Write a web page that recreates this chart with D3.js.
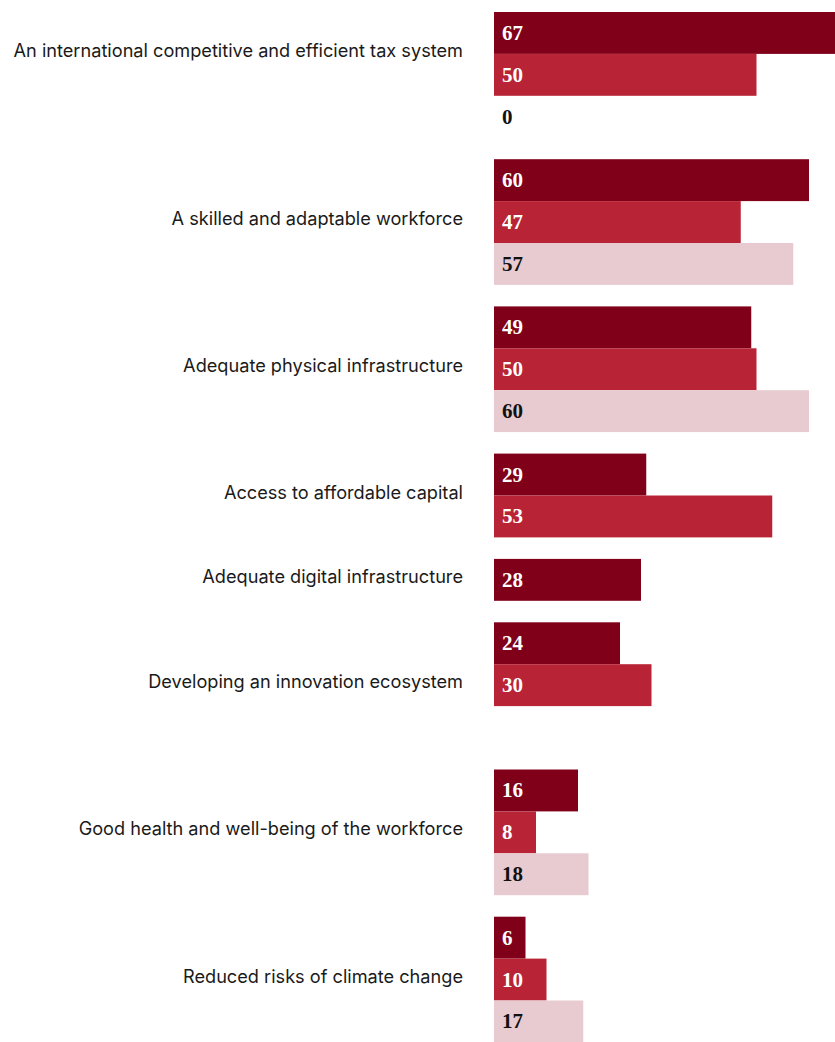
<!DOCTYPE html>
<html><head><meta charset="utf-8">
<script src="https://cdn.jsdelivr.net/npm/d3@7/dist/d3.min.js"></script>
<style>html,body{margin:0;padding:0;background:#fff;overflow:hidden}</style>
</head><body><div id="chart"></div>
<script>
const categories = [
  "An international competitive and efficient tax system",
  "A skilled and adaptable workforce",
  "Adequate physical infrastructure",
  "Access to affordable capital",
  "Adequate digital infrastructure",
  "Developing an innovation ecosystem",
  "Good health and well-being of the workforce",
  "Reduced risks of climate change"
];
const series1 = [67, 60, 49, 29, 28, 24, 16, 6];
const series2 = [50, 47, 50, 53, null, 30, 8, 10];
const series3 = [0, 57, 60, null, null, null, 18, 17];

// layout / style
const W = 835, H = 1042;
const slotsPerGroup = [3, 3, 3, 2, 1, 3, 3, 3];
const topY = 12, slotH = 41.9, gapH = 21.5;
const x0 = 494, labelRight = 463;
const fills = ["#80001A", "#B82336", "#E7CBD0"];
const textFills = ["#ffffff", "#ffffff", "#111111"];
const catFont = "Inter, 'Liberation Sans', Arial, sans-serif";

const svg = d3.select("#chart").append("svg").attr("width", W).attr("height", H);
const x = d3.scaleLinear().domain([0, 60]).range([0, 315]);

// fit category font so the longest label spans the reference width
const probe = svg.append("text").attr("font-family", catFont).attr("font-size", 17).text(categories[0]);
const catSize = 17 * 450 / probe.node().getComputedTextLength();
probe.remove();

const allSeries = [series1, series2, series3];
let cum = 0;
categories.forEach((cat, g) => {
  const n = slotsPerGroup[g];
  const y0 = topY + cum * slotH + g * gapH;
  cum += n;
  const y = d3.scaleBand().domain(d3.range(n)).range([y0, y0 + n * slotH]);
  const vals = allSeries.map(s => s[g]);
  const grp = svg.append("g");
  vals.forEach((v, i) => {
    if (v === null || v === undefined || i >= n) return;
    if (v > 0) {
      grp.append("rect").attr("x", x0).attr("y", y(i))
        .attr("width", x(v)).attr("height", y.bandwidth()).attr("fill", fills[i]);
    }
    grp.append("text").attr("x", x0 + 8).attr("y", y(i) + y.bandwidth() / 2 + 7)
      .attr("font-family", "'Liberation Serif', 'DejaVu Serif', serif")
      .attr("font-weight", "bold").attr("font-size", 21)
      .attr("fill", v > 0 ? textFills[i] : "#111").text(v);
  });
  // label centred over slots, excluding trailing zero-valued slots
  let span = n;
  while (span > 1 && vals[span - 1] === 0) span--;
  const cy = y0 + span * slotH / 2;
  svg.append("text").attr("x", labelRight).attr("y", cy + 3)
    .attr("text-anchor", "end")
    .attr("font-family", catFont)
    .attr("font-size", catSize).attr("fill", "#1a1a1a").text(cat);
});
</script></body></html>
